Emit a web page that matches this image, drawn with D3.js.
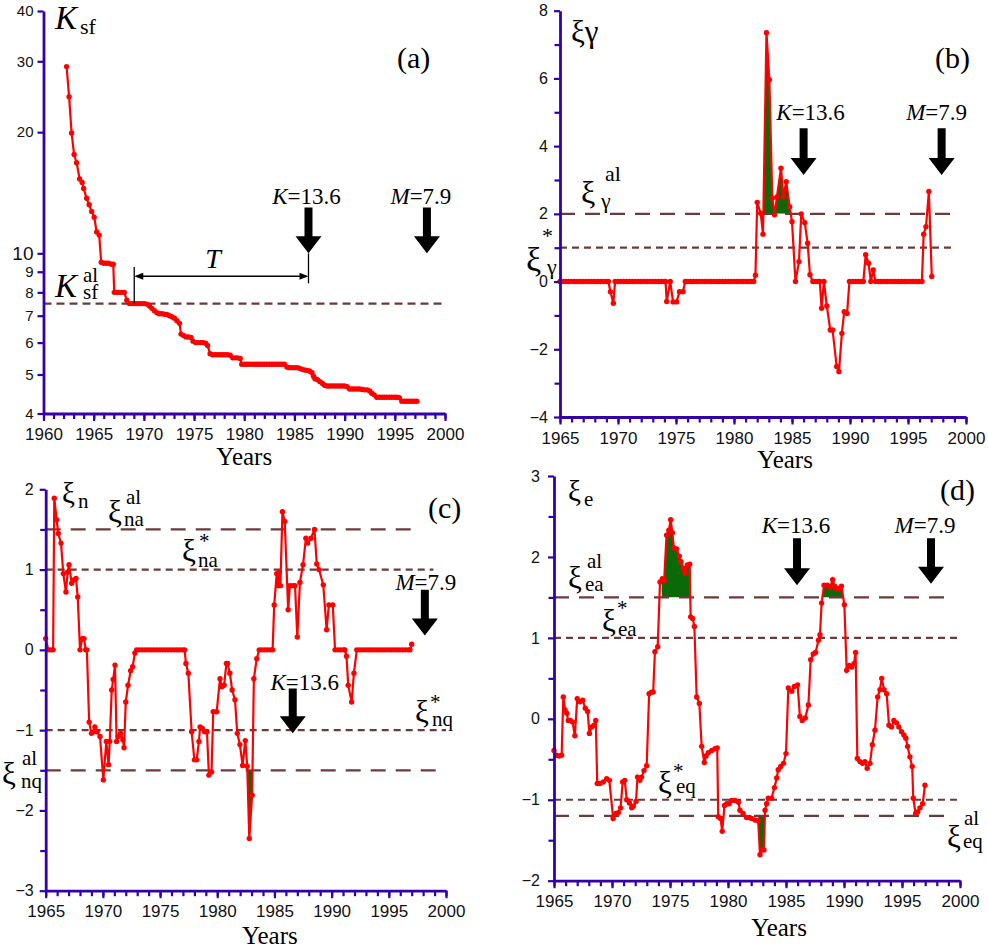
<!DOCTYPE html>
<html><head><meta charset="utf-8">
<script src="https://cdn.jsdelivr.net/npm/d3@7"></script>
<style>body{margin:0;background:#fff}svg{display:block}</style>
</head><body>
<script>
// ---------------- DATA ----------------
const ksfSeries = [
[1962.3,29.1],[1962.55,24.5],[1962.8,19.9],[1963.05,17.6],[1963.3,16.8],[1963.6,15.3],[1963.85,15.0],[1964.0,14.5],[1964.3,13.7],[1964.55,13.2],[1964.8,12.7],[1965.05,12.3],[1965.3,11.3],[1965.55,11.1],[1965.75,9.5],[1966.0,9.45],[1966.25,9.45],[1966.5,9.45],[1966.75,9.4],[1966.95,9.4],[1967.05,8.0],[1967.3,8.0],[1967.55,8.0],[1967.8,8.0],[1968.05,8.0],[1968.3,7.65],[1968.55,7.5],[1968.8,7.5],[1969.05,7.5],[1969.3,7.5],[1969.55,7.5],[1969.8,7.5],[1970.05,7.5],[1970.3,7.48],[1970.55,7.4],[1970.8,7.3],[1971.05,7.2],[1971.3,7.12],[1971.55,7.08],[1971.8,7.08],[1972.05,7.06],[1972.3,7.05],[1972.55,7.0],[1972.8,6.96],[1973.05,6.9],[1973.3,6.8],[1973.55,6.7],[1973.7,6.3],[1973.95,6.25],[1974.2,6.2],[1974.45,6.2],[1974.7,6.18],[1974.9,6.05],[1975.15,6.0],[1975.4,6.0],[1975.65,6.0],[1975.9,6.0],[1976.15,5.98],[1976.35,5.9],[1976.6,5.63],[1976.85,5.6],[1977.1,5.6],[1977.35,5.6],[1977.6,5.6],[1977.85,5.6],[1978.1,5.6],[1978.35,5.6],[1978.6,5.58],[1978.85,5.5],[1979.1,5.5],[1979.35,5.5],[1979.6,5.48],[1979.75,5.3],[1980.0,5.3],[1980.25,5.3],[1980.5,5.3],[1980.75,5.3],[1981.0,5.3],[1981.25,5.3],[1981.5,5.3],[1981.75,5.3],[1982.0,5.3],[1982.25,5.3],[1982.5,5.3],[1982.75,5.3],[1983.0,5.3],[1983.25,5.3],[1983.5,5.3],[1983.75,5.3],[1984.0,5.3],[1984.25,5.22],[1984.5,5.2],[1984.75,5.2],[1985.0,5.2],[1985.25,5.2],[1985.5,5.18],[1985.75,5.15],[1986.0,5.13],[1986.25,5.12],[1986.5,5.1],[1986.75,5.05],[1986.9,4.95],[1987.05,4.88],[1987.3,4.85],[1987.55,4.8],[1987.8,4.75],[1988.0,4.7],[1988.25,4.68],[1988.5,4.68],[1988.75,4.68],[1989.0,4.68],[1989.25,4.68],[1989.5,4.68],[1989.75,4.68],[1990.0,4.68],[1990.25,4.66],[1990.5,4.6],[1990.75,4.6],[1991.0,4.6],[1991.25,4.6],[1991.5,4.6],[1991.75,4.59],[1992.0,4.58],[1992.25,4.58],[1992.5,4.55],[1992.7,4.49],[1992.95,4.45],[1993.2,4.39],[1993.45,4.39],[1993.7,4.39],[1993.95,4.39],[1994.2,4.39],[1994.45,4.39],[1994.7,4.39],[1994.95,4.39],[1995.2,4.39],[1995.45,4.38],[1995.7,4.29],[1995.95,4.29],[1996.2,4.29],[1996.45,4.29],[1996.7,4.29],[1996.95,4.29],[1997.2,4.29]
];
const xiGammaSeries = [
[1965.0,0],[1965.25,0],[1965.5,0],[1965.75,0],[1966.0,0],[1966.25,0],[1966.5,0],[1966.75,0],[1967.0,0],[1967.25,0],[1967.5,0],[1967.75,0],[1968.0,0],[1968.25,0],[1968.5,0],[1968.75,0],[1969.0,0],[1969.17,0],[1969.35,-0.3],[1969.6,-0.64],[1969.75,0],[1970.0,0],[1970.25,0],[1970.5,0],[1970.75,0],[1971.0,0],[1971.25,0],[1971.5,0],[1971.75,0],[1972.0,0],[1972.25,0],[1972.5,0],[1972.75,0],[1973.0,0],[1973.25,0],[1973.5,0],[1973.75,0],[1974.0,0],[1974.1,0],[1974.2,-0.59],[1974.5,0],[1974.75,-0.6],[1975.05,-0.6],[1975.3,-0.3],[1975.6,-0.3],[1975.8,0],[1976.0,0],[1976.25,0],[1976.5,0],[1976.75,0],[1977.0,0],[1977.25,0],[1977.5,0],[1977.75,0],[1978.0,0],[1978.25,0],[1978.5,0],[1978.75,0],[1979.0,0],[1979.25,0],[1979.5,0],[1979.75,0],[1980.0,0],[1980.25,0],[1980.5,0],[1980.75,0],[1981.0,0],[1981.25,0],[1981.5,0],[1981.7,0],[1981.85,0.19],[1982.0,2.34],[1982.3,2.02],[1982.5,1.4],[1982.8,7.35],[1983.05,5.96],[1983.3,2.46],[1983.5,1.97],[1983.7,2.5],[1984.05,3.35],[1984.25,2.5],[1984.5,2.95],[1984.8,2.21],[1985.0,1.77],[1985.3,0],[1985.6,0.59],[1985.8,2.0],[1986.1,1.74],[1986.35,1.13],[1986.55,0.2],[1986.8,0],[1987.05,0],[1987.25,0],[1987.4,0],[1987.55,-0.79],[1987.75,0],[1988.0,-0.72],[1988.3,-1.43],[1988.5,-1.43],[1988.85,-2.51],[1989.05,-2.66],[1989.3,-1.53],[1989.5,-0.89],[1989.75,-0.94],[1989.95,0],[1990.2,0],[1990.45,0],[1990.7,0],[1990.95,0],[1991.15,0],[1991.35,0.79],[1991.6,0.54],[1991.8,0],[1992.0,0.34],[1992.2,0],[1992.45,0],[1992.7,0],[1992.95,0],[1993.2,0],[1993.45,0],[1993.7,0],[1993.95,0],[1994.2,0],[1994.45,0],[1994.7,0],[1994.95,0],[1995.2,0],[1995.45,0],[1995.7,0],[1995.95,0],[1996.2,0],[1996.35,1.4],[1996.55,1.62],[1996.8,2.66],[1997.05,0.15]
];
const xiNSeries = [
[1965.0,0.14],[1965.23,0],[1965.45,0],[1965.65,0],[1965.75,1.89],[1965.96,1.62],[1966.1,1.45],[1966.34,1.33],[1966.54,0.95],[1966.77,0.72],[1966.92,0.97],[1967.04,1.06],[1967.27,0.83],[1967.45,0.87],[1967.65,0.89],[1967.8,0.66],[1968.0,0],[1968.2,0.14],[1968.35,0.14],[1968.5,0],[1968.6,0],[1968.8,-0.9],[1969.0,-1.04],[1969.2,-1.02],[1969.3,-0.96],[1969.5,-1.02],[1969.75,-1.08],[1970.04,-1.62],[1970.3,-1.14],[1970.5,-1.43],[1970.6,-1.14],[1970.77,-0.5],[1970.9,-0.37],[1971.06,-0.19],[1971.2,-1.14],[1971.35,-1.08],[1971.55,-1.04],[1971.75,-1.12],[1971.85,-1.22],[1972.0,-0.65],[1972.2,-0.44],[1972.43,-0.26],[1972.6,-0.21],[1972.8,-0.04],[1972.95,0],[1973.2,0],[1973.45,0],[1973.7,0],[1973.95,0],[1974.2,0],[1974.45,0],[1974.7,0],[1974.95,0],[1975.2,0],[1975.45,0],[1975.7,0],[1975.95,0],[1976.2,0],[1976.45,0],[1976.7,0],[1976.95,0],[1977.15,0],[1977.26,-0.17],[1977.47,-0.29],[1977.76,-1.02],[1978.0,-1.37],[1978.2,-1.37],[1978.4,-1.14],[1978.5,-0.96],[1978.7,-0.98],[1978.9,-1.02],[1979.1,-1.02],[1979.27,-1.56],[1979.5,-1.52],[1979.65,-0.77],[1979.95,-0.77],[1980.24,-0.36],[1980.4,-0.46],[1980.6,-0.44],[1980.8,-0.17],[1980.9,-0.17],[1981.1,-0.29],[1981.3,-0.5],[1981.55,-0.62],[1981.75,-1.04],[1981.98,-1.18],[1982.22,-1.44],[1982.45,-1.13],[1982.62,-1.45],[1982.8,-2.35],[1983.05,-1.81],[1983.2,-0.36],[1983.45,-0.11],[1983.67,0],[1983.9,0],[1984.15,0],[1984.4,0],[1984.65,0],[1984.84,0],[1984.98,0.56],[1985.2,0.95],[1985.33,0.8],[1985.42,0.97],[1985.52,0.8],[1985.7,1.72],[1985.9,1.6],[1986.2,0.5],[1986.35,0.8],[1986.6,0.8],[1986.8,0.8],[1987.0,0.16],[1987.23,0.84],[1987.5,1.06],[1987.75,1.39],[1987.9,1.33],[1988.2,1.39],[1988.5,1.5],[1988.7,1.07],[1988.9,1.0],[1989.27,0.81],[1989.56,0.25],[1989.76,0.56],[1990.1,0.56],[1990.3,0],[1990.55,0],[1990.8,0],[1991.05,0],[1991.16,0],[1991.3,-0.08],[1991.45,-0.44],[1991.75,-0.65],[1991.95,-0.29],[1992.2,0],[1992.45,0],[1992.7,0],[1992.95,0],[1993.2,0],[1993.45,0],[1993.7,0],[1993.95,0],[1994.2,0],[1994.45,0],[1994.7,0],[1994.95,0],[1995.2,0],[1995.45,0],[1995.7,0],[1995.95,0],[1996.2,0],[1996.45,0],[1996.7,0],[1996.85,0],[1997.0,0.07]
];
const xiESeries = [
[1965.0,-0.39],[1965.2,-0.45],[1965.45,-0.46],[1965.66,-0.45],[1965.8,0.27],[1965.95,0.11],[1966.1,0.07],[1966.23,-0.02],[1966.4,-0.02],[1966.6,-0.04],[1966.8,-0.21],[1967.0,0.25],[1967.24,0.21],[1967.47,0.23],[1967.7,0.13],[1967.9,0.09],[1968.05,-0.18],[1968.25,-0.1],[1968.45,-0.08],[1968.6,-0.02],[1968.73,-0.8],[1968.96,-0.8],[1969.25,-0.78],[1969.54,-0.74],[1969.77,-0.76],[1970.1,-1.23],[1970.34,-1.17],[1970.54,-1.16],[1970.74,-1.1],[1970.92,-0.78],[1971.1,-0.76],[1971.27,-1.0],[1971.5,-1.04],[1971.7,-1.1],[1971.84,-1.08],[1972.07,-1.02],[1972.2,-0.72],[1972.4,-0.76],[1972.55,-0.72],[1972.76,-0.64],[1972.99,-0.58],[1973.2,0.31],[1973.4,0.33],[1973.55,0.33],[1973.7,0.83],[1973.94,0.89],[1974.14,1.69],[1974.34,1.73],[1974.5,1.71],[1974.7,2.27],[1974.9,2.33],[1975.06,2.46],[1975.2,2.3],[1975.34,2.11],[1975.57,2.1],[1975.8,2.01],[1975.95,1.94],[1976.15,1.86],[1976.3,1.8],[1976.5,1.9],[1976.7,1.91],[1976.78,1.26],[1976.95,1.24],[1977.1,1.14],[1977.3,0.27],[1977.53,0.19],[1977.73,-0.34],[1977.96,-0.54],[1978.1,-0.46],[1978.3,-0.42],[1978.6,-0.39],[1978.88,-0.37],[1979.07,-0.36],[1979.16,-1.21],[1979.36,-1.23],[1979.5,-1.39],[1979.7,-1.07],[1979.9,-1.05],[1980.1,-1.05],[1980.3,-1.01],[1980.6,-1.01],[1980.9,-1.03],[1981.03,-1.13],[1981.3,-1.17],[1981.6,-1.22],[1981.85,-1.22],[1982.05,-1.23],[1982.33,-1.25],[1982.6,-1.26],[1982.76,-1.68],[1982.9,-1.62],[1983.1,-1.62],[1983.19,-1.13],[1983.33,-1.05],[1983.47,-0.98],[1983.76,-0.98],[1984.0,-0.85],[1984.2,-0.73],[1984.33,-0.63],[1984.55,-0.59],[1984.78,-0.55],[1985.0,-0.43],[1985.2,0.38],[1985.5,0.34],[1985.72,0.4],[1986.0,0.42],[1986.2,0.03],[1986.4,-0.02],[1986.66,0.01],[1986.93,0.17],[1987.13,0.73],[1987.35,0.8],[1987.55,0.82],[1987.8,0.97],[1987.93,1.04],[1988.07,1.43],[1988.28,1.65],[1988.57,1.65],[1988.8,1.62],[1989.02,1.72],[1989.2,1.64],[1989.35,1.61],[1989.57,1.61],[1989.78,1.64],[1990.03,1.41],[1990.23,0.6],[1990.45,0.66],[1990.66,0.64],[1990.86,0.68],[1991.0,0.82],[1991.15,-0.49],[1991.38,-0.53],[1991.6,-0.55],[1991.8,-0.53],[1992.0,-0.61],[1992.24,-0.55],[1992.44,-0.32],[1992.67,-0.14],[1992.9,0.27],[1993.1,0.36],[1993.25,0.5],[1993.45,0.36],[1993.68,0.31],[1993.88,-0.08],[1994.1,-0.1],[1994.3,-0.02],[1994.53,-0.05],[1994.73,-0.1],[1994.96,-0.16],[1995.16,-0.2],[1995.33,-0.24],[1995.48,-0.34],[1995.68,-0.47],[1995.88,-0.59],[1995.97,-0.98],[1996.17,-1.17],[1996.35,-1.15],[1996.55,-1.1],[1996.78,-1.05],[1996.98,-0.82]
];

// thresholds
const ksfAl = 7.5;
const xiGammaAl = 2.0, xiGammaStar = 1.0;
const xiNaAl = 1.5, xiNaStar = 1.0, xiNqStar = -1.0, xiNqAl = -1.5;
const xiEaAl = 1.5, xiEaStar = 1.0, xiEqStar = -1.0, xiEqAl = -1.2;

// alarm (green) intervals
const alarmB = [[1982.5, 1985.1]];
const alarmC = [[1982.6, 1983.2]];
const alarmDUp = [[1974.3, 1976.8], [1988.15, 1990.0]];
const alarmDLow = [[1979.1, 1979.7], [1982.6, 1983.2]];

// tick labels
const xTicksA = [1960, 1965, 1970, 1975, 1980, 1985, 1990, 1995, 2000];
const xTicksBCD = [1965, 1970, 1975, 1980, 1985, 1990, 1995, 2000];
const yTicksA = [4, 5, 6, 7, 8, 9, 10, 20, 30, 40];
const yTicksB = [-4, -2, 0, 2, 4, 6, 8];
const yTicksC = [-3, -2, -1, 0, 1, 2];
const yTicksD = [-2, -1, 0, 1, 2, 3];

// earthquake markers
const quakeLabels = ["K", "=13.6", "M", "=7.9"];

// ---------------- DRAWING ----------------
const AXIS = "#3300aa", RED = "#ff0000", DASH = "#6b3b3b", GREEN = "#0a6a0a";
const SERIF = "'Liberation Serif','Times New Roman',serif";
const SANS = "'Liberation Sans',Arial,sans-serif";

const svg = d3.select("body").append("svg").attr("width", 988).attr("height", 951);
const defs = svg.append("defs");
let clipId = 0;

function txt(g, s, x, y, size, italic, anchor) {
  return g.append("text").attr("x", x).attr("y", y).attr("font-size", size)
    .attr("font-family", SERIF).attr("font-style", italic ? "italic" : "normal")
    .attr("text-anchor", anchor || "start").attr("fill", "#000").text(s);
}
// composite symbol label: one text element, parts [text, x, y, size, italic]
function sym(g, parts) {
  const t = g.append("text").attr("font-family", SERIF).attr("fill", "#000");
  parts.forEach(p => {
    t.append("tspan").attr("x", p[1]).attr("y", p[2]).attr("font-size", p[3])
      .attr("font-style", p[4] ? "italic" : "normal").text(p[0]);
  });
  return t;
}

function panel(o) {
  const g = svg.append("g");
  const b = o.box;
  const x = d3.scaleLinear().domain(o.xDomain).range([b.l, b.r]);
  const y = (o.log ? d3.scaleLog() : d3.scaleLinear()).domain(o.yDomain).range([b.b, b.t]);

  // green alarm fills
  (o.alarms || []).forEach(al => {
    const id = "clip" + (clipId++);
    const thrY = y(al.thr);
    defs.append("clipPath").attr("id", id).append("rect")
      .attr("x", x(al.range[0])).attr("width", x(al.range[1]) - x(al.range[0]))
      .attr("y", al.dir > 0 ? b.t : thrY).attr("height", al.dir > 0 ? thrY - b.t : b.b - thrY);
    const area = d3.area().x(d => x(d[0])).y0(thrY).y1(d => y(d[1]));
    g.append("path").datum(o.data).attr("d", area).attr("fill", GREEN)
      .attr("clip-path", `url(#${id})`);
  });

  // threshold dashed lines
  (o.levels || []).forEach(l => {
    g.append("line").attr("x1", b.l).attr("x2", x(l.to)).attr("y1", y(l.v)).attr("y2", y(l.v))
      .attr("stroke", DASH).attr("stroke-width", 2.2)
      .attr("stroke-dasharray", l.dash);
  });

  // series
  const line = d3.line().x(d => x(d[0])).y(d => y(d[1]));
  g.append("path").datum(o.data).attr("d", line).attr("fill", "none")
    .attr("stroke", RED).attr("stroke-width", 2.2);
  g.append("g").selectAll("circle").data(o.data).join("circle")
    .attr("cx", d => x(d[0])).attr("cy", d => y(d[1])).attr("r", 2.7).attr("fill", RED);

  // axes
  const xMinor = d3.range(o.xDomain[0], o.xDomain[1] + 1, 1);
  const gxm = g.append("g").attr("transform", `translate(0,${b.b})`).attr("color", AXIS)
    .call(d3.axisBottom(x).tickValues(xMinor).tickSize(5.5).tickSizeOuter(0).tickFormat(""));
  gxm.select(".domain").remove();
  const gx = g.append("g").attr("transform", `translate(0,${b.b})`).attr("color", AXIS)
    .call(d3.axisBottom(x).tickValues(o.xTicks).tickSize(7.5).tickSizeOuter(0).tickPadding(7).tickFormat(d3.format("d")));
  [gxm, gx].forEach(a => a.selectAll(".tick line").attr("stroke", AXIS).attr("stroke-width", 2.2));
  gx.select(".domain").attr("stroke", AXIS).attr("stroke-width", 2.8);
  gx.selectAll("text").attr("font-family", SANS).attr("font-size", 17).attr("fill", "#111");

  if (o.yMinor) {
    const gym = g.append("g").attr("transform", `translate(${b.l},0)`).attr("color", AXIS)
      .call(d3.axisLeft(y).tickValues(o.yMinor).tickSize(5.5).tickSizeOuter(0).tickFormat(""));
    gym.select(".domain").remove();
    gym.selectAll(".tick line").attr("stroke", AXIS).attr("stroke-width", 2.2);
  }
  const gy = g.append("g").attr("transform", `translate(${b.l},0)`).attr("color", AXIS)
    .call(d3.axisLeft(y).tickValues(o.yTicks).tickSize(6).tickSizeOuter(0).tickPadding(o.yPad || 5)
      .tickFormat(d3.format("d")));
  gy.selectAll(".tick line").attr("stroke", AXIS).attr("stroke-width", 2.2);
  gy.select(".domain").attr("stroke", AXIS).attr("stroke-width", 2.8);
  gy.selectAll("text").attr("font-family", SANS).attr("font-size", o.ySize || 16).attr("fill", "#111");
  if (o.bigTen) gy.selectAll("text").filter(d => d === 10).attr("font-size", 19);

  // "Years"
  txt(g, "Years", x(o.yearsAt), o.yearsY, 25, false, "middle");

  // arrows with labels
  (o.arrows || []).forEach(a => {
    const cx = x(a.year), top = y(a.top), tip = y(a.tip), hl = 17;
    g.append("path").attr("d",
      `M${cx-4},${top}L${cx+4},${top}L${cx+4},${tip-hl}L${cx+13},${tip-hl}L${cx},${tip}L${cx-13},${tip-hl}L${cx-4},${tip-hl}Z`)
      .attr("fill", "#000");
    const t = g.append("text").attr("x", cx + a.dx).attr("y", top + a.dy).attr("font-size", 23)
      .attr("font-family", SERIF).attr("text-anchor", "middle");
    t.append("tspan").attr("font-style", "italic").text(a.sym);
    t.append("tspan").text(a.val);
  });
  return { g, x, y };
}

// ---- Panel (a)
const A = panel({
  box: { l: 43.5, r: 445, t: 11, b: 413.5 }, xDomain: [1960, 2000], yDomain: [4, 40], log: true,
  xTicks: xTicksA, yTicks: yTicksA, ySize: 15, yPad: 4, bigTen: true,
  data: ksfSeries,
  levels: [{ v: ksfAl, to: 2000, dash: "8,5" }],
  yearsAt: 1980, yearsY: 465,
  arrows: [
    { year: 1986.4, top: 13.0, tip: 10.0, sym: quakeLabels[0], val: quakeLabels[1], dx: -2, dy: -3 },
    { year: 1998.2, top: 13.0, tip: 10.0, sym: quakeLabels[2], val: quakeLabels[3], dx: -6, dy: -3 }
  ]
});
{
  const g = A.g, x = A.x, y = A.y;
  const x1 = x(1969.04), x2 = x(1986.4), yy = y(8.77);
  g.append("line").attr("x1", x1).attr("x2", x1).attr("y1", y(7.5)).attr("y2", y(9.25)).attr("stroke", "#000").attr("stroke-width", 1.3);
  g.append("line").attr("x1", x2).attr("x2", x2).attr("y1", y(10.0)).attr("y2", y(8.42)).attr("stroke", "#000").attr("stroke-width", 1.3);
  g.append("line").attr("x1", x1 + 6).attr("x2", x2 - 6).attr("y1", yy).attr("y2", yy).attr("stroke", "#000").attr("stroke-width", 1.3);
  g.append("path").attr("d", `M${x1},${yy}L${x1 + 9},${yy - 3.5}L${x1 + 9},${yy + 3.5}Z`).attr("fill", "#000");
  g.append("path").attr("d", `M${x2},${yy}L${x2 - 9},${yy - 3.5}L${x2 - 9},${yy + 3.5}Z`).attr("fill", "#000");
  txt(g, "T", x(1976.9), 268, 28, true, "middle");
  sym(g, [["K", 55, 29, 33, true], ["sf", 80, 34, 22, false]]);
  sym(g, [["K", 55, 297, 33, true], ["al", 83, 282, 21, false], ["sf", 83, 299, 21, false]]);
  txt(g, "(a)", 397, 68, 30, false);
}

// ---- Panel (b)
const B = panel({
  box: { l: 560, r: 966, t: 10.7, b: 417 }, xDomain: [1965, 2000], yDomain: [-4, 8],
  xTicks: xTicksBCD, yTicks: yTicksB, yMinor: [-3, -1, 1, 3, 5, 7], yPad: 6,
  data: xiGammaSeries,
  alarms: alarmB.map(r => ({ range: r, thr: xiGammaAl, dir: 1 })),
  levels: [{ v: xiGammaAl, to: 1998.7, dash: "15,10" }, { v: xiGammaStar, to: 1998.9, dash: "7,5" }],
  yearsAt: 1984.4, yearsY: 468,
  arrows: [
    { year: 1986.0, top: 4.53, tip: 3.15, sym: quakeLabels[0], val: quakeLabels[1], dx: 7, dy: -8 },
    { year: 1997.9, top: 4.53, tip: 3.15, sym: quakeLabels[2], val: quakeLabels[3], dx: -5, dy: -8 }
  ]
});
{
  const g = B.g;
  sym(g, [["ξγ", 571, 42, 31, false]]);
  sym(g, [["ξ", 581, 203, 32, false], ["γ", 601, 208, 22, false], ["al", 605, 181, 22, false]]);
  sym(g, [["ξ", 526, 271, 34, false], ["*", 542, 243, 22, false], ["γ", 547, 274, 22, false]]);
  txt(g, "(b)", 935, 68, 30, false);
}

// ---- Panel (c)
const C = panel({
  box: { l: 45.7, r: 446, t: 489.3, b: 890.7 }, xDomain: [1965, 2000], yDomain: [-3, 2],
  xTicks: xTicksBCD, yTicks: yTicksC, yMinor: [-2.5, -1.5, -0.5, 0.5, 1.5], yPad: 6,
  data: xiNSeries,
  alarms: alarmC.map(r => ({ range: r, thr: xiNqAl, dir: -1 })),
  levels: [
    { v: xiNaAl, to: 1997.1, dash: "15,10" }, { v: xiNaStar, to: 1998.9, dash: "7,5" },
    { v: xiNqStar, to: 2000, dash: "7,5" }, { v: xiNqAl, to: 1999.5, dash: "15,10" }
  ],
  yearsAt: 1984.6, yearsY: 944,
  arrows: [
    { year: 1986.6, top: -0.48, tip: -1.04, sym: quakeLabels[0], val: quakeLabels[1], dx: 12, dy: 2 },
    { year: 1998.15, top: 0.75, tip: 0.18, sym: quakeLabels[2], val: quakeLabels[3], dx: 1, dy: 0 }
  ]
});
{
  const g = C.g;
  sym(g, [["ξ", 62, 503, 29, false], ["n", 78, 508, 21, false]]);
  sym(g, [["ξ", 108, 522, 31, false], ["al", 126, 504, 21, false], ["na", 124, 526, 21, false]]);
  sym(g, [["ξ", 182, 561, 31, false], ["*", 199, 548, 21, false], ["na", 198, 567, 21, false]]);
  sym(g, [["ξ", 2, 784, 31, false], ["al", 22, 765, 21, false], ["nq", 21, 788, 21, false]]);
  sym(g, [["ξ", 415, 722, 31, false], ["*", 430, 709, 21, false], ["nq", 432, 726, 21, false]]);
  txt(g, "(c)", 428, 518, 30, false);
}

// ---- Panel (d)
const D = panel({
  box: { l: 554, r: 960, t: 476, b: 880.7 }, xDomain: [1965, 2000], yDomain: [-2, 3],
  xTicks: xTicksBCD, yTicks: yTicksD, yMinor: [-1.5, -0.5, 0.5, 1.5, 2.5], yPad: 8,
  data: xiESeries,
  alarms: alarmDUp.map(r => ({ range: r, thr: xiEaAl, dir: 1 }))
    .concat(alarmDLow.map(r => ({ range: r, thr: xiEqAl, dir: -1 }))),
  levels: [
    { v: xiEaAl, to: 1999.4, dash: "15,10" }, { v: xiEaStar, to: 2000, dash: "7,5" },
    { v: xiEqStar, to: 2000, dash: "7,5" }, { v: xiEqAl, to: 1999.4, dash: "15,10" }
  ],
  yearsAt: 1984.4, yearsY: 936,
  arrows: [
    { year: 1985.95, top: 2.23, tip: 1.65, sym: quakeLabels[0], val: quakeLabels[1], dx: -1, dy: -5 },
    { year: 1997.5, top: 2.23, tip: 1.67, sym: quakeLabels[2], val: quakeLabels[3], dx: -6, dy: -5 }
  ]
});
{
  const g = D.g;
  sym(g, [["ξ", 568, 501, 29, false], ["e", 584, 506, 21, false]]);
  sym(g, [["ξ", 568, 588, 31, false], ["al", 587, 568, 21, false], ["ea", 585, 591, 21, false]]);
  sym(g, [["ξ", 602, 631, 31, false], ["*", 617, 615, 21, false], ["ea", 618, 636, 21, false]]);
  sym(g, [["ξ", 658, 793, 31, false], ["*", 673, 778, 21, false], ["eq", 676, 793, 21, false]]);
  sym(g, [["ξ", 947, 847, 31, false], ["al", 964, 825, 21, false], ["eq", 963, 848, 21, false]]);
  txt(g, "(d)", 940, 500, 30, false);
}
</script>
</body></html>
